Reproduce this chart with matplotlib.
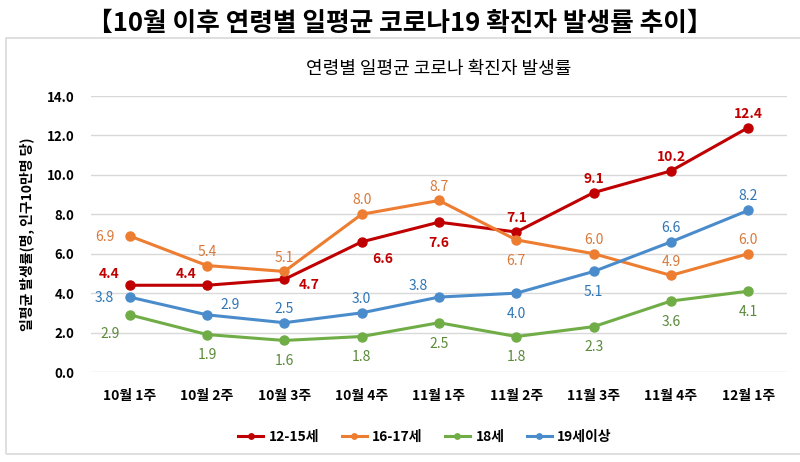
import matplotlib
matplotlib.use("Agg")
import matplotlib.pyplot as plt
from matplotlib.patches import Rectangle

plt.rcParams['font.family'] = ['Noto Sans CJK KR', 'DejaVu Sans']

# -------------------------------
# data
# -------------------------------
weeks = ["10월 1주", "10월 2주", "10월 3주", "10월 4주", "11월 1주",
         "11월 2주", "11월 3주", "11월 4주", "12월 1주"]

age_12_15 = [4.4, 4.4, 4.7, 6.6, 7.6, 7.1, 9.1, 10.2, 12.4]
age_16_17 = [6.9, 5.4, 5.1, 8.0, 8.7, 6.7, 6.0, 4.9, 6.0]
age_18 = [2.9, 1.9, 1.6, 1.8, 2.5, 1.8, 2.3, 3.6, 4.1]
age_19_up = [3.8, 2.9, 2.5, 3.0, 3.8, 4.0, 5.1, 6.6, 8.2]

series_names = ["12-15세", "16-17세", "18세", "19세이상"]

# label placement per point (dx, dy in points)
A, B, L, R = (0, 10), (0, -15), (-18, -1), (18, -4)
UL, UR, DL, DR = (-15, 8), (17, 7), (-14, -14), (15, -12)

pos_12_15 = [UL, UL, R, DR, B, A, A, A, A]
pos_16_17 = [L, A, A, A, A, B, A, A, A]
pos_18 = [DL, B, B, B, B, B, B, B, B]
pos_19_up = [L, UR, A, A, UL, B, B, A, A]

styles = [
    (age_12_15, pos_12_15, "#C00000", "#C00000", "bold"),
    (age_16_17, pos_16_17, "#ED7D31", "#D9793A", "normal"),
    (age_18, pos_18, "#70AD47", "#5A8A3A", "normal"),
    (age_19_up, pos_19_up, "#4A8CCB", "#2E75B6", "normal"),
]

fig = plt.figure(figsize=(8, 4.62), dpi=100)

# outer chart frame
fig.patches.append(Rectangle((6 / 800, 8 / 462), 800, 416 / 462,
                             transform=fig.transFigure, fill=False,
                             edgecolor="#D9D9D9", linewidth=1.2))

fig.text(0.5, 0.950, "【10월 이후 연령별 일평균 코로나19 확진자 발생률 추이】",
         ha="center", va="center", fontsize=18.5, fontweight="bold")

ax = fig.add_axes([91 / 800, 90 / 462, 696 / 800, 276 / 462])
x = list(range(len(weeks)))

for (vals, pos, col, lcol, w), name in zip(styles, series_names):
    ax.plot(x, vals, color=col, linewidth=2.2, marker="o", markersize=6.5,
            label=name)
    for xi, v, p in zip(x, vals, pos):
        ax.annotate(f"{v:.1f}", (xi, v), xytext=p, textcoords="offset points",
                    ha="center", va="center", color=lcol, fontsize=10,
                    fontweight=w)

ax.set_xlim(-0.5, 8.5)
ax.set_ylim(0, 14)
ax.set_yticks([0, 2, 4, 6, 8, 10, 12, 14])
ax.set_yticklabels([f"{t:.1f}" for t in ax.get_yticks()],
                   fontsize=9.5, fontweight="bold")
ax.set_xticks(x)
ax.set_xticklabels(weeks, fontsize=10, fontweight="bold")
ax.tick_params(length=0, pad=12)
ax.grid(axis="y", color="#D9D9D9", linewidth=1)
for s in ax.spines.values():
    s.set_visible(False)
ax.set_axisbelow(True)

ax.set_ylabel("일평균 발생률(명, 인구10만명 당)", fontsize=10, fontweight="bold",
              labelpad=8)
ax.set_title("연령별 일평균 코로나 확진자 발생률", fontsize=13, pad=16)

ax.legend(loc="center", bbox_to_anchor=(0.48, -0.235), ncol=4,
          frameon=False, prop={"weight": "bold", "size": 10},
          handlelength=1.8, handletextpad=0.4, columnspacing=1.6,
          markerscale=0.6)

fig.savefig("out.png", dpi=100)
